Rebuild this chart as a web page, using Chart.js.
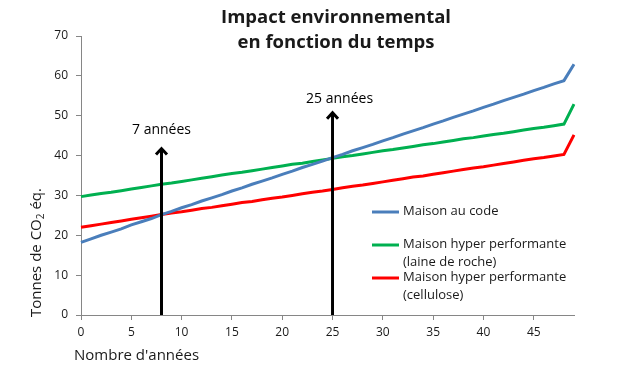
<!DOCTYPE html>
<html>
<head>
<meta charset="utf-8">
<script src="https://cdn.jsdelivr.net/npm/chart.js@4"></script>
<style>
  html, body { margin: 0; padding: 0; background: #fff; }
  #wrap { width: 640px; height: 375px; position: relative; }
</style>
</head>
<body>
<div id="wrap"><canvas id="chart"></canvas></div>
<script>
// Années 0..49
const years = ['0','1','2','3','4','5','6','7','8','9','10','11','12','13','14','15','16','17','18','19',
    '20','21','22','23','24','25','26','27','28','29','30','31','32','33','34','35','36','37','38','39',
    '40','41','42','43','44','45','46','47','48','49'];

const maisonCode = [18.2, 19.1, 20.0, 20.8, 21.6, 22.6, 23.4, 24.2, 25.2, 26.0,
    26.9, 27.7, 28.6, 29.4, 30.2, 31.1, 31.9, 32.8, 33.6, 34.4,
    35.3, 36.1, 37.0, 37.8, 38.6, 39.5, 40.3, 41.2, 42.0, 42.8,
    43.7, 44.5, 45.4, 46.2, 47.0, 47.9, 48.7, 49.6, 50.4, 51.2,
    52.1, 52.9, 53.8, 54.6, 55.4, 56.3, 57.1, 58.0, 58.8, 62.9];

const maisonLaine = [29.7, 30.1, 30.5, 30.8, 31.2, 31.6, 32.0, 32.4, 32.8, 33.1,
    33.5, 33.9, 34.3, 34.7, 35.1, 35.5, 35.8, 36.2, 36.6, 37.0,
    37.4, 37.8, 38.1, 38.5, 38.9, 39.3, 39.7, 40.0, 40.4, 40.8,
    41.2, 41.5, 41.9, 42.3, 42.7, 43.0, 43.4, 43.8, 44.2, 44.5,
    44.9, 45.3, 45.6, 46.0, 46.4, 46.8, 47.1, 47.5, 47.9, 52.9];

const maisonCellulose = [22.0, 22.4, 22.8, 23.2, 23.6, 24.0, 24.4, 24.8, 25.2, 25.6,
    25.9, 26.3, 26.7, 27.0, 27.4, 27.8, 28.2, 28.5, 28.9, 29.3,
    29.6, 30.0, 30.4, 30.8, 31.1, 31.5, 31.9, 32.3, 32.6, 33.0,
    33.4, 33.8, 34.2, 34.6, 34.9, 35.3, 35.7, 36.1, 36.5, 36.9,
    37.2, 37.6, 38.0, 38.4, 38.8, 39.2, 39.5, 39.9, 40.3, 45.2];

const seriesNames = [['Maison au code'],
    ['Maison hyper performante', '(laine de roche)'],
    ['Maison hyper performante', '(cellulose)']];
const seriesColors = ['#4A7EBB', '#00B050', '#FF0000'];

// Flèches annotées (année, hauteur de la flèche, texte, position du texte)
const arrowYears = [8, 25];
const arrowTops = [42, 51];
const arrowLabels = ['7 années', '25 années'];
const arrowLabelX = [8, 25.7];
const arrowLabelY = [46.5, 54.2];

const FONT = '"Open Sans", "Noto Sans", sans-serif';
const TEXT = '#1a1a1a';
const AXIS = '#868686';

const decorations = {
    id: 'decorations',
    afterDatasetsDraw(chart) {
        const { ctx, scales: { x, y } } = chart;
        ctx.save();

        // titre
        ctx.fillStyle = TEXT;
        ctx.font = 'bold 18.5px ' + FONT;
        ctx.textAlign = 'center';
        ctx.textBaseline = 'middle';
        ctx.fillText('Impact environnemental', 336, 18);
        ctx.fillText('en fonction du temps', 336, 43);

        // flèches
        ctx.strokeStyle = '#000';
        ctx.lineWidth = 3;
        ctx.lineCap = 'butt';
        arrowYears.forEach((yr, i) => {
            const px = x.getPixelForValue(yr);
            const top = y.getPixelForValue(arrowTops[i]);
            ctx.beginPath();
            ctx.moveTo(px, y.getPixelForValue(0));
            ctx.lineTo(px, top + 1);
            ctx.stroke();
            ctx.beginPath();
            ctx.lineJoin = 'miter';
            ctx.moveTo(px - 5.5, top + 7);
            ctx.lineTo(px, top + 1);
            ctx.lineTo(px + 5.5, top + 7);
            ctx.stroke();

            ctx.fillStyle = '#000';
            ctx.font = '14px ' + FONT;
            ctx.textAlign = 'center';
            ctx.fillText(arrowLabels[i], x.getPixelForValue(arrowLabelX[i]), y.getPixelForValue(arrowLabelY[i]));
        });

        // légende
        const legendRows = [212, 245, 278];
        ctx.font = '13px ' + FONT;
        ctx.textAlign = 'left';
        ctx.textBaseline = 'middle';
        seriesNames.forEach((lines, i) => {
            const ly = legendRows[i];
            ctx.strokeStyle = seriesColors[i];
            ctx.lineWidth = 3;
            ctx.beginPath();
            ctx.moveTo(372, ly);
            ctx.lineTo(399, ly);
            ctx.stroke();
            ctx.fillStyle = TEXT;
            lines.forEach((t, j) => ctx.fillText(t, 403, ly - 1 + j * 18));
        });

        // titre axe des x
        ctx.font = '15px ' + FONT;
        ctx.fillStyle = TEXT;
        ctx.textAlign = 'left';
        ctx.fillText("Nombre d'années", 74, 356);

        // titre axe des y (CO2 avec indice)
        ctx.translate(37, 317);
        ctx.rotate(-Math.PI / 2);
        ctx.textAlign = 'left';
        ctx.font = '15px ' + FONT;
        let tx = 0;
        const a = 'Tonnes de CO';
        ctx.fillText(a, tx, 0);
        tx += ctx.measureText(a).width;
        ctx.font = '10px ' + FONT;
        ctx.fillText('2', tx, 4);
        tx += ctx.measureText('2').width;
        ctx.font = '15px ' + FONT;
        ctx.fillText(' éq.', tx, 0);

        ctx.restore();
    }
};

const datasets = [maisonCode, maisonLaine, maisonCellulose].map((data, i) => ({
    label: seriesNames[i].join(' '),
    data: data,
    borderColor: seriesColors[i],
    backgroundColor: seriesColors[i],
    borderWidth: 3,
    pointRadius: 0,
    tension: 0,
    fill: false,
}));

new Chart(document.getElementById('chart'), {
    type: 'line',
    data: { labels: years, datasets: datasets },
    options: {
        responsive: true,
        maintainAspectRatio: false,
        animation: false,
        layout: { padding: { left: 0, right: 66, top: 36, bottom: 0 } },
        plugins: {
            legend: { display: false },
            tooltip: { enabled: false },
        },
        scales: {
            x: {
                offset: false,
                border: { display: true, color: AXIS, width: 1 },
                grid: {
                    drawOnChartArea: false,
                    tickLength: 5,
                    color: (c) => (c.index % 5 === 0 ? AXIS : 'rgba(0,0,0,0)'),
                },
                ticks: {
                    autoSkip: false,
                    maxRotation: 0,
                    padding: 5,
                    color: TEXT,
                    font: { family: FONT, size: 12 },
                    callback: (v, i) => (i % 5 === 0 ? years[i] : ''),
                },
                afterFit: (scale) => { scale.height = 60; },
            },
            y: {
                min: 0,
                max: 70,
                border: { display: true, color: AXIS, width: 1 },
                grid: { drawOnChartArea: false, tickLength: 5, color: AXIS },
                ticks: {
                    stepSize: 10,
                    padding: 8,
                    color: TEXT,
                    font: { family: FONT, size: 12 },
                },
                afterFit: (scale) => { scale.width = 81; },
            },
        },
    },
    plugins: [decorations],
});
</script>
</body>
</html>
